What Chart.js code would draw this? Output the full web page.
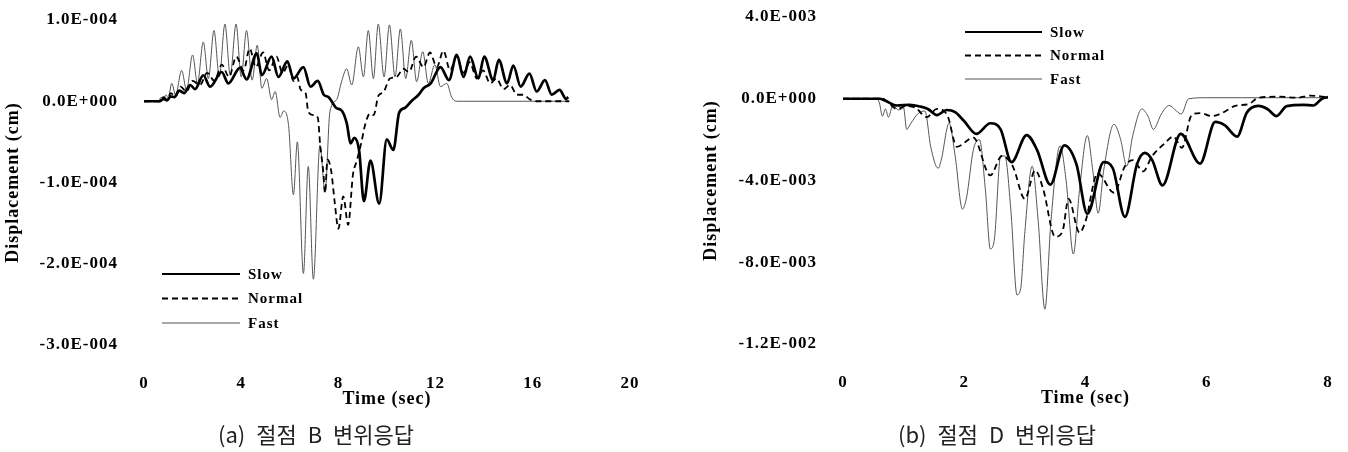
<!DOCTYPE html>
<html><head><meta charset="utf-8">
<script src="https://cdn.jsdelivr.net/npm/chart.js@4"></script>
<style>
html,body{margin:0;padding:0;background:#fff;}
body{width:1348px;height:452px;position:relative;overflow:hidden;}
.wrap{position:absolute;top:0;width:674px;height:452px;}
.cap{position:absolute;top:417px;line-height:32px;font-family:"Noto Sans CJK KR","Noto Sans",sans-serif;font-size:22px;word-spacing:6px;color:#222;white-space:nowrap;transform:translateX(-50%);}
</style></head>
<body>
<div class="wrap" style="left:0"><canvas id="cB" width="674" height="452"></canvas></div>
<div class="wrap" style="left:674px"><canvas id="cD" width="674" height="452"></canvas></div>
<div class="cap" style="left:316px">(a) 절점 B 변위응답</div>
<div class="cap" style="left:997px">(b) 절점 D 변위응답</div>
<script>
// ---------- Data: node B (values in 1E-004 cm) ----------
const seriesNames = ['Slow', 'Normal', 'Fast'];

const slowBT = [0,0.65,0.8,0.95,1.1,1.25,1.45,1.65,1.9,2.1,2.44,2.72,3.2,3.47,3.95,4.22,4.64,4.85,5.25,5.53,5.9,6.15,6.56,6.85,7.15,7.4,7.6,7.9,8.15,8.35,8.5,8.65,8.85,9.05,9.32,9.68,9.99,10.26,10.5,10.75,11.0,11.3,11.5,11.8,12.2,12.55,12.87,13.15,13.42,13.76,14.0,14.37,14.6,14.94,15.2,15.5,15.86,16.16,16.5,16.78,17.1,17.37,17.46];
const slowBV = [0,0,0.03,0.01,0.06,0.05,0.13,0.1,0.2,0.15,0.32,0.18,0.36,0.22,0.41,0.27,0.59,0.32,0.55,0.30,0.49,0.28,0.42,0.18,0.25,0.08,0.05,-0.08,-0.12,-0.28,-0.52,-0.45,-0.6,-1.23,-0.73,-1.26,-0.47,-0.6,-0.14,-0.08,0.0,0.08,0.16,0.22,0.42,0.26,0.57,0.30,0.55,0.28,0.55,0.26,0.51,0.22,0.44,0.18,0.34,0.12,0.26,0.08,0.14,0.03,0.05];

const normBT = [0,0.65,0.8,0.95,1.1,1.3,1.5,1.75,2.0,2.3,2.6,2.9,3.2,3.5,3.8,4.1,4.35,4.6,4.9,5.15,5.45,5.7,5.95,6.15,6.3,6.45,6.65,6.76,6.97,7.15,7.25,7.38,7.45,7.55,7.7,7.85,8.0,8.2,8.4,8.6,8.75,8.95,9.1,9.3,9.45,9.65,9.85,10.12,10.4,10.67,10.9,11.2,11.5,11.77,12.05,12.32,12.6,12.87,13.15,13.4,13.7,13.95,14.25,14.5,14.8,15.06,15.35,15.6,15.9,16.2,17.5];
const normBV = [0,0,0.05,0.02,0.1,0.06,0.18,0.12,0.25,0.2,0.35,0.25,0.45,0.3,0.55,0.38,0.65,0.42,0.6,0.38,0.55,0.35,0.45,0.25,0.3,0.14,0.1,-0.13,-0.17,-0.2,-0.54,-0.87,-1.13,-0.72,-0.85,-1.25,-1.57,-1.17,-1.52,-0.9,-0.74,-0.5,-0.29,-0.15,-0.17,0.07,0.11,0.28,0.3,0.4,0.36,0.55,0.42,0.6,0.42,0.62,0.38,0.55,0.35,0.48,0.28,0.38,0.22,0.28,0.15,0.2,0.08,0.08,0.02,0,0];

const fastBT = [0,0.6,0.7,0.8,0.9,1.0,1.14,1.3,1.55,1.75,2.0,2.2,2.44,2.65,2.88,3.1,3.33,3.55,3.79,4.0,4.22,4.45,4.66,4.85,5.05,5.25,5.4,5.6,5.75,5.95,6.15,6.31,6.56,6.76,6.97,7.24,7.45,7.65,7.93,8.13,8.34,8.55,8.82,9.03,9.23,9.44,9.64,9.88,10.1,10.33,10.55,10.77,11.0,11.22,11.47,11.7,11.97,12.2,12.46,12.66,12.85,17.5];
const fastBV = [0,0,0.05,0.02,0.08,0.04,0.22,0.08,0.38,0.14,0.57,0.22,0.73,0.28,0.87,0.3,0.95,0.32,0.95,0.3,0.87,0.26,0.69,0.16,0.28,0.02,0.12,-0.2,-0.12,-0.3,-1.15,-0.5,-2.12,-0.8,-2.19,-0.54,-1.12,-0.13,0.02,0.24,0.4,0.2,0.67,0.3,0.87,0.28,0.95,0.3,0.94,0.3,0.89,0.28,0.75,0.24,0.61,0.22,0.45,0.18,0.22,0.05,0,0];

const bYTicks = [1, 0, -1, -2, -3];
const bYTickLabels = ['1.0E-004', '0.0E+000', '-1.0E-004', '-2.0E-004', '-3.0E-004'];
const bXTicks = [0, 4, 8, 12, 16, 20];

// ---------- Data: node D (values in 1E-003 cm) ----------
const slowDT = [0,0.6,0.7,0.89,1.1,1.27,1.4,1.55,1.71,1.85,2.0,2.2,2.43,2.6,2.78,3.03,3.2,3.42,3.65,3.85,4.03,4.3,4.45,4.65,4.85,4.98,5.1,5.27,5.57,5.89,6.14,6.3,6.5,6.66,6.85,7.0,7.15,7.32,7.6,7.76,7.9,8.0];
const slowDV = [0,0,-0.1,-0.33,-0.3,-0.38,-0.5,-0.8,-0.55,-0.65,-1.1,-1.72,-1.2,-1.5,-3.1,-1.78,-2.5,-4.2,-2.28,-3.2,-5.62,-3.1,-3.4,-5.78,-3.2,-2.65,-3.0,-4.24,-1.72,-3.17,-1.13,-1.3,-1.85,-0.68,-0.35,-0.5,-0.85,-0.36,-0.3,-0.33,0.0,0.08];

const normDT = [0,0.66,0.75,0.89,1.05,1.2,1.38,1.55,1.72,1.88,2.15,2.43,2.62,2.8,3.0,3.17,3.3,3.5,3.62,3.72,3.9,4.0,4.2,4.47,4.65,4.78,4.95,5.1,5.3,5.45,5.59,5.75,5.9,6.08,6.25,6.47,6.7,6.85,7.2,7.5,7.7,8.0];
const normDV = [0,0,-0.2,-0.5,-0.35,-0.45,-0.9,-0.5,-0.8,-2.35,-1.9,-3.75,-2.8,-3.3,-4.9,-3.5,-4.4,-6.75,-6.5,-4.9,-6.55,-6.0,-3.65,-4.6,-3.3,-3.0,-3.55,-2.8,-2.2,-1.85,-2.4,-0.8,-0.7,-0.85,-0.7,-0.35,-0.25,0.05,0.1,0.05,0.15,0.08];

const fastDT = [0,0.55,0.6,0.65,0.7,0.75,0.82,0.92,1.0,1.05,1.12,1.24,1.35,1.45,1.57,1.62,1.75,1.85,1.97,2.04,2.15,2.25,2.35,2.43,2.5,2.6,2.67,2.77,2.87,2.93,3.0,3.12,3.22,3.33,3.43,3.58,3.68,3.8,3.9,4.03,4.12,4.21,4.3,4.47,4.58,4.68,4.78,4.93,5.03,5.12,5.25,5.38,5.5,5.58,5.7,6.0,8.0];
const fastDV = [0,0,-0.2,-0.85,-0.5,-0.9,-0.35,-0.55,-0.45,-1.5,-1.2,-0.72,-0.6,-2.4,-3.4,-3.0,-1.2,-2.8,-5.4,-4.8,-2.5,-2.0,-4.5,-7.35,-6.8,-2.8,-2.8,-5.5,-9.6,-9.3,-6.5,-3.3,-6.0,-10.3,-6.0,-2.3,-4.0,-7.6,-4.5,-1.8,-3.5,-5.6,-3.5,-1.25,-2.0,-3.3,-1.8,-0.5,-0.85,-1.5,-0.75,-0.33,-0.6,-0.75,0.0,0.05,0.05];

const dYTicks = [4, 0, -4, -8, -12];
const dYTickLabels = ['4.0E-003', '0.0E+000', '-4.0E-003', '-8.0E-003', '-1.2E-002'];
const dXTicks = [0, 2, 4, 6, 8];

// ---------- Helpers ----------
const pts = (ts, vs) => ts.map((t, i) => ({x: t, y: vs[i]}));
const SERIF = '"Liberation Serif","Times New Roman",serif';

const refLegend = {
  id: 'refLegend',
  beforeDraw(chart) { chart.ctx.letterSpacing = '1px'; },
  afterDatasetsDraw(chart, args, o) {
    const ctx = chart.ctx;
    ctx.save();
    chart.data.datasets.forEach((ds, i) => {
      const y = o.y + i * o.gap;
      ctx.beginPath();
      ctx.setLineDash(ds.borderDash || []);
      ctx.lineWidth = ds.legendWidth;
      ctx.strokeStyle = ds.borderColor;
      ctx.moveTo(o.x, y); ctx.lineTo(o.x + o.len, y); ctx.stroke();
      ctx.setLineDash([]);
      ctx.fillStyle = '#000';
      ctx.font = 'bold 15px ' + SERIF;
      ctx.letterSpacing = '1px';
      ctx.textBaseline = 'middle';
      ctx.textAlign = 'left';
      ctx.fillText(ds.label, o.x + o.len + o.textGap, y + 1);
    });
    ctx.restore();
  }
};

function makeDatasets(s, n, f) {
  return [
    {label: seriesNames[0], data: s, borderColor: '#000', borderWidth: 2.7, legendWidth: 2, borderDash: []},
    {label: seriesNames[1], data: n, borderColor: '#000', borderWidth: 1.8, legendWidth: 1.8, borderDash: [6, 4]},
    {label: seriesNames[2], data: f, borderColor: '#555', borderWidth: 1, legendWidth: 1, borderDash: []}
  ].map(d => Object.assign(d, {pointRadius: 0, fill: false, cubicInterpolationMode: 'monotone'}));
}

function makeChart(id, c) {
  return new Chart(document.getElementById(id), {
    type: 'line',
    data: {datasets: c.datasets},
    plugins: [refLegend],
    options: {
      responsive: false, animation: false, devicePixelRatio: 1,
      layout: {autoPadding: false, padding: {left: 0, top: c.top, right: c.right, bottom: c.bottom}},
      plugins: {legend: {display: false}, tooltip: {enabled: false}, refLegend: c.legend},
      scales: {
        x: {
          type: 'linear', min: c.xTicks[0], max: c.xTicks[c.xTicks.length - 1],
          grid: {display: false, drawTicks: true, tickLength: 28}, border: {display: false},
          afterBuildTicks: s => { s.ticks = c.xTicks.map(v => ({value: v})); },
          ticks: {padding: 0, color: '#000', font: {family: SERIF, size: 17, weight: 'bold'}, callback: v => String(v), maxRotation: 0},
          title: {display: true, text: 'Time (sec)', color: '#000', font: {family: SERIF, size: 18, weight: 'bold'}, padding: {top: 0, bottom: 0}},
          afterFit: s => { s.height = c.xAxisH; }
        },
        y: {
          type: 'linear', min: c.yTicks[c.yTicks.length - 1], max: c.yTicks[0],
          grid: {display: false, drawTicks: true, tickLength: 26}, border: {display: false},
          afterBuildTicks: s => { s.ticks = c.yTicks.map(v => ({value: v})); },
          ticks: {padding: 0, color: '#000', font: {family: SERIF, size: 17, weight: 'bold'},
                  callback: v => c.yLabels[c.yTicks.indexOf(v)]},
          title: {display: true, text: 'Displacement (cm)', color: '#000', font: {family: SERIF, size: 18, weight: 'bold'}, padding: {top: c.yTitlePad, bottom: 0}},
          afterFit: s => { s.width = c.yAxisW; }
        }
      }
    }
  });
}

makeChart('cB', {
  datasets: makeDatasets(pts(slowBT, slowBV), pts(normBT, normBV), pts(fastBT, fastBV)),
  xTicks: bXTicks, yTicks: bYTicks, yLabels: bYTickLabels,
  top: 20, right: 44, bottom: 42, xAxisH: 65, yAxisW: 144, yTitlePad: 3,
  legend: {x: 162, y: 274, gap: 24.5, len: 78, textGap: 8}
});

makeChart('cD', {
  datasets: makeDatasets(pts(slowDT, slowDV), pts(normDT, normDV), pts(fastDT, fastDV)),
  xTicks: dXTicks, yTicks: dYTicks, yLabels: dYTickLabels,
  top: 17, right: 20, bottom: 43, xAxisH: 65, yAxisW: 169, yTitlePad: 27,
  legend: {x: 291, y: 32, gap: 23.5, len: 77, textGap: 8}
});
</script>
</body></html>
